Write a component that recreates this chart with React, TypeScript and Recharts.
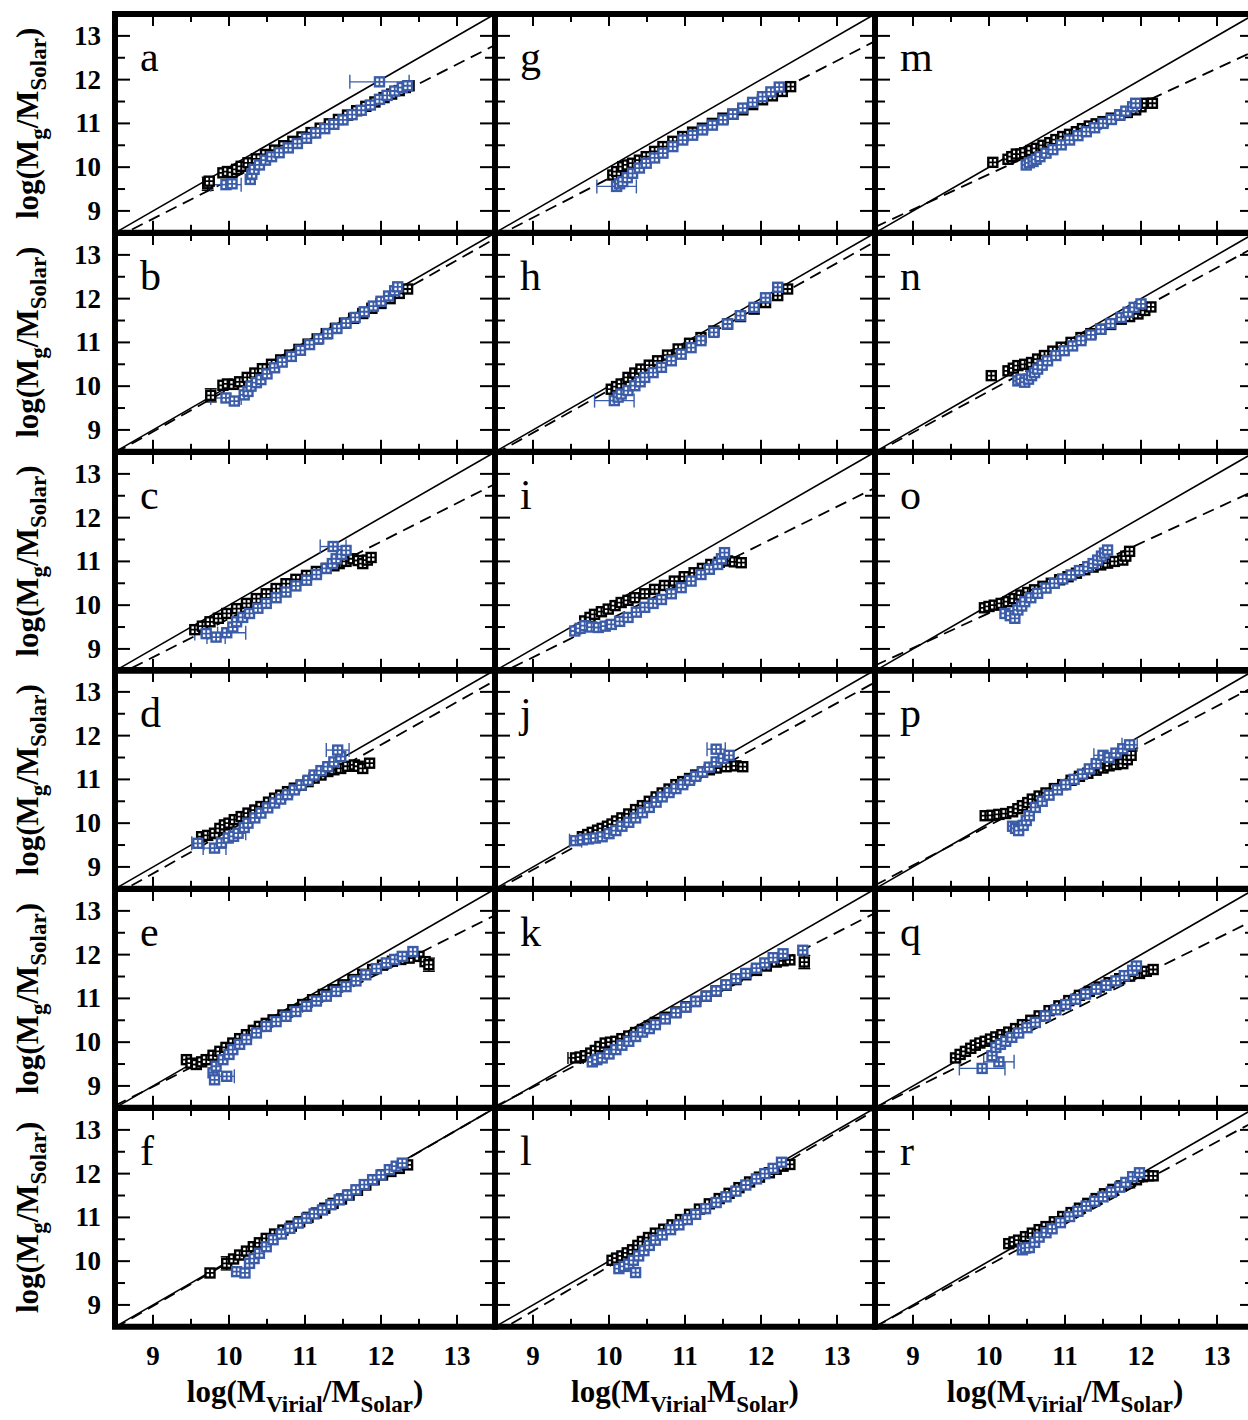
import React from "react";
import { ScatterChart, Scatter, XAxis, YAxis, ReferenceLine, ReferenceArea, ErrorBar } from "recharts";

// each point: [log Mvirial, log Mg, xErr?, yErr?]
// K = black squares, B = blue squares
const aK = [[9.72,9.62,0,0.15],[9.74,9.68],[9.92,9.87],[9.98,9.9],[10.04,9.88],[10.1,9.95],[10.16,10.02],[10.25,10.1],[10.36,10.19],[10.48,10.29],[10.6,10.39],[10.72,10.49],[10.84,10.59],[10.96,10.69],[11.08,10.79],[11.2,10.89],[11.32,10.99],[11.44,11.09],[11.56,11.19],[11.68,11.29],[11.8,11.39],[11.92,11.49],[12.04,11.59],[12.14,11.67],[12.24,11.75],[12.32,11.82],[12.37,11.86]];
const aB = [[9.96,9.6,0.2],[10.04,9.62],[10.28,9.72],[10.3,9.84],[10.33,9.95],[10.4,10.05],[10.48,10.16],[10.56,10.24],[10.66,10.33],[10.78,10.44],[10.9,10.54],[11.02,10.66],[11.14,10.78],[11.26,10.88],[11.38,10.98],[11.5,11.08],[11.62,11.2],[11.74,11.3],[11.86,11.42],[11.98,11.55],[12.08,11.64],[12.18,11.74],[12.28,11.82],[12.35,11.86],[11.98,11.95,0.39]];

const bK = [[9.76,9.79,0,0.15],[9.92,10.02],[9.98,10.05],[10.06,10.04],[10.14,10.1],[10.24,10.2],[10.34,10.3],[10.44,10.4],[10.56,10.5],[10.68,10.6],[10.8,10.71],[10.92,10.84],[11.04,10.96],[11.16,11.08],[11.28,11.2],[11.4,11.32],[11.52,11.44],[11.64,11.55],[11.76,11.66],[11.88,11.78],[12.0,11.89],[12.12,12.0],[12.24,12.12],[12.35,12.22]];
const bB = [[9.96,9.73,0.2],[10.07,9.66],[10.2,9.8],[10.25,9.88],[10.29,10.0],[10.36,10.08],[10.42,10.15],[10.5,10.28],[10.6,10.42],[10.7,10.55],[10.82,10.68],[10.94,10.82],[11.06,10.95],[11.18,11.08],[11.3,11.2],[11.42,11.32],[11.54,11.44],[11.66,11.57],[11.78,11.7],[11.9,11.83],[12.0,11.94],[12.1,12.06],[12.18,12.18],[12.22,12.27]];

const cK = [[9.55,9.44],[9.65,9.52],[9.75,9.62],[9.86,9.7],[9.97,9.81],[10.1,9.92],[10.23,10.04],[10.36,10.15],[10.49,10.26],[10.62,10.38],[10.75,10.49],[10.88,10.59],[11.02,10.68],[11.15,10.77],[11.28,10.84],[11.38,10.9],[11.45,10.95],[11.54,11.0],[11.63,11.06],[11.7,11.02],[11.76,10.95],[11.82,11.03],[11.87,11.09]];
const cB = [[9.7,9.35,0.15],[9.83,9.27,0.12],[9.97,9.37,0.25],[10.05,9.5],[10.1,9.62],[10.18,9.72],[10.27,9.81],[10.38,9.93],[10.49,10.04],[10.62,10.17],[10.75,10.3],[10.88,10.44],[11.02,10.57],[11.15,10.7],[11.28,10.84],[11.36,10.95],[11.41,11.06],[11.48,11.16],[11.54,11.25],[11.37,11.34,0.17]];

const dK = [[9.64,9.69],[9.72,9.72],[9.81,9.77],[9.88,9.88],[9.94,9.96],[10.0,10.0],[10.07,10.08],[10.16,10.15],[10.25,10.23],[10.34,10.3],[10.42,10.38],[10.52,10.48],[10.6,10.57],[10.68,10.64],[10.77,10.72],[10.86,10.8],[10.95,10.87],[11.04,10.95],[11.12,11.03],[11.21,11.1],[11.3,11.18],[11.38,11.22],[11.47,11.25],[11.56,11.3],[11.65,11.33],[11.7,11.3],[11.76,11.25],[11.85,11.37]];
const dB = [[9.59,9.54,0.08],[9.81,9.43,0.15],[9.9,9.55],[9.99,9.66],[10.06,9.7],[10.12,9.77,0.1],[10.2,9.9],[10.25,10.0],[10.34,10.12],[10.42,10.23],[10.51,10.35],[10.6,10.46],[10.68,10.55],[10.77,10.65],[10.86,10.76],[10.95,10.87],[11.04,10.98],[11.12,11.1],[11.21,11.2],[11.3,11.29],[11.38,11.4],[11.47,11.52],[11.43,11.67,0.15]];

const eK = [[9.44,9.6],[9.5,9.52],[9.57,9.49],[9.64,9.55],[9.7,9.6],[9.79,9.7],[9.88,9.79],[9.96,9.88],[10.05,9.98],[10.14,10.08],[10.23,10.17],[10.32,10.27],[10.4,10.36],[10.49,10.43],[10.58,10.51],[10.71,10.62],[10.84,10.74],[10.97,10.86],[11.1,10.97],[11.24,11.09],[11.37,11.2],[11.5,11.31],[11.63,11.43],[11.76,11.55],[11.89,11.66],[12.02,11.76],[12.15,11.85],[12.26,11.89],[12.37,11.92],[12.5,11.96],[12.58,11.84],[12.63,11.77,0,0.15]];
const eB = [[9.79,9.3],[9.81,9.14],[9.97,9.22,0.1],[9.83,9.45],[9.92,9.6],[10.0,9.72],[10.05,9.83],[10.14,9.95],[10.23,10.06],[10.36,10.21],[10.49,10.36],[10.62,10.47],[10.75,10.59],[10.88,10.7],[11.02,10.82],[11.15,10.94],[11.28,11.05],[11.41,11.16],[11.54,11.27],[11.67,11.4],[11.8,11.54],[11.94,11.68],[12.07,11.81],[12.18,11.89],[12.28,11.96],[12.42,12.07]];

const fK = [[9.75,9.73],[9.97,9.95,0,0.15],[10.06,10.05],[10.14,10.14],[10.23,10.23],[10.32,10.33],[10.4,10.42],[10.49,10.52],[10.6,10.62],[10.71,10.71],[10.82,10.8],[10.93,10.9],[11.04,11.0],[11.15,11.1],[11.26,11.21],[11.37,11.32],[11.48,11.42],[11.58,11.51],[11.69,11.62],[11.8,11.74],[11.91,11.86],[12.02,11.97],[12.13,12.05],[12.24,12.12],[12.35,12.2]];
const fB = [[10.1,9.76],[10.21,9.73],[10.27,9.95],[10.33,10.06],[10.4,10.18],[10.49,10.33],[10.58,10.49],[10.69,10.62],[10.8,10.75],[10.91,10.87],[11.02,10.98],[11.12,11.08],[11.23,11.17],[11.34,11.29],[11.45,11.4],[11.56,11.51],[11.67,11.63],[11.78,11.75],[11.89,11.86],[12.0,11.97],[12.11,12.09],[12.2,12.17],[12.28,12.24]];

const gK = [[10.05,9.82],[10.1,9.9],[10.18,10.01],[10.24,10.05],[10.31,10.09],[10.4,10.16],[10.49,10.24],[10.6,10.36],[10.71,10.47],[10.84,10.59],[10.97,10.7],[11.1,10.8],[11.23,10.89],[11.36,11.0],[11.5,11.12],[11.63,11.21],[11.76,11.31],[11.89,11.43],[12.02,11.54],[12.15,11.63],[12.28,11.73],[12.39,11.84]];
const gB = [[10.1,9.56,0.26],[10.14,9.62],[10.18,9.67],[10.24,9.76],[10.31,9.86],[10.4,9.98],[10.49,10.09],[10.6,10.21],[10.71,10.32],[10.84,10.47],[10.97,10.62],[11.1,10.73],[11.23,10.85],[11.36,10.96],[11.5,11.08],[11.63,11.21],[11.76,11.35],[11.89,11.48],[12.02,11.61],[12.13,11.72],[12.24,11.83]];

const hK = [[10.03,9.93],[10.1,9.99],[10.16,10.05],[10.25,10.2],[10.34,10.3],[10.42,10.39],[10.53,10.48],[10.64,10.58],[10.77,10.71],[10.91,10.85],[11.06,10.98],[11.21,11.11],[11.38,11.26],[11.56,11.42],[11.73,11.59],[11.91,11.76],[12.06,11.91],[12.22,12.07],[12.35,12.22]];
const hB = [[10.07,9.67,0.26],[10.12,9.75],[10.16,9.82],[10.25,9.9],[10.34,10.01],[10.41,10.1],[10.47,10.2],[10.58,10.31],[10.69,10.43],[10.82,10.58],[10.95,10.73],[11.08,10.88],[11.21,11.04],[11.38,11.23],[11.56,11.42],[11.73,11.61],[11.91,11.8],[12.06,12.02],[12.22,12.26]];

const iK = [[9.68,9.64],[9.75,9.72],[9.81,9.79],[9.9,9.85],[9.99,9.91],[10.08,9.99],[10.16,10.06],[10.25,10.11],[10.34,10.17],[10.47,10.26],[10.6,10.36],[10.73,10.45],[10.86,10.55],[10.99,10.65],[11.12,10.74],[11.23,10.84],[11.34,10.93],[11.45,10.98],[11.56,11.01],[11.65,10.99],[11.74,10.97]];
const iB = [[9.55,9.41],[9.62,9.47],[9.68,9.53],[9.77,9.5],[9.86,9.49],[9.95,9.52],[10.03,9.56],[10.14,9.63],[10.25,9.72],[10.36,9.84],[10.47,9.95],[10.58,10.04],[10.69,10.13],[10.82,10.26],[10.95,10.4],[11.08,10.55],[11.21,10.7],[11.32,10.82],[11.43,10.93],[11.48,11.06],[11.52,11.2]];

const jK = [[9.65,9.69],[9.72,9.74],[9.78,9.79],[9.85,9.84],[9.91,9.88],[9.98,9.93],[10.04,9.98],[10.1,10.05],[10.17,10.12],[10.26,10.21],[10.35,10.31],[10.44,10.4],[10.53,10.5],[10.62,10.6],[10.7,10.69],[10.79,10.78],[10.88,10.88],[10.97,10.95],[11.06,11.02],[11.14,11.1],[11.23,11.17],[11.32,11.22],[11.41,11.26],[11.54,11.29],[11.67,11.31],[11.76,11.29]];
const jB = [[9.56,9.6,0.08],[9.65,9.62],[9.73,9.64],[9.82,9.66],[9.91,9.69],[10.0,9.76],[10.09,9.83],[10.17,9.93],[10.26,10.02],[10.35,10.12],[10.44,10.24],[10.53,10.36],[10.62,10.48],[10.7,10.6],[10.79,10.7],[10.88,10.79],[10.97,10.88],[11.06,10.98],[11.14,11.07],[11.23,11.17],[11.32,11.28],[11.41,11.4],[11.5,11.48],[11.58,11.55],[11.41,11.69,0.12]];

const kK = [[9.56,9.64,0.1],[9.62,9.66],[9.69,9.69],[9.76,9.75],[9.82,9.81],[9.88,9.9],[9.95,9.98],[10.02,10.0],[10.09,10.02],[10.17,10.08],[10.26,10.14],[10.35,10.22],[10.44,10.29],[10.53,10.37],[10.61,10.45],[10.74,10.57],[10.88,10.69],[11.01,10.81],[11.14,10.93],[11.28,11.05],[11.41,11.17],[11.54,11.3],[11.67,11.43],[11.8,11.54],[11.94,11.64],[12.07,11.74],[12.2,11.83],[12.29,11.86],[12.38,11.88],[12.57,11.83,0,0.15]];
const kB = [[9.78,9.55],[9.84,9.6],[9.91,9.64],[10.0,9.73],[10.09,9.83],[10.17,9.93],[10.26,10.02],[10.35,10.13],[10.44,10.23],[10.53,10.31],[10.61,10.4],[10.74,10.53],[10.88,10.67],[11.01,10.8],[11.14,10.93],[11.28,11.05],[11.41,11.17],[11.54,11.31],[11.67,11.45],[11.8,11.57],[11.94,11.69],[12.05,11.81],[12.16,11.93],[12.29,12.02],[12.55,12.1]];

const lK = [[10.04,10.02],[10.1,10.07],[10.17,10.12],[10.24,10.19],[10.31,10.26],[10.38,10.36],[10.44,10.45],[10.52,10.54],[10.61,10.64],[10.72,10.73],[10.83,10.83],[10.94,10.95],[11.06,11.07],[11.19,11.19],[11.32,11.31],[11.45,11.43],[11.58,11.55],[11.71,11.68],[11.85,11.81],[11.98,11.92],[12.11,12.02],[12.2,12.1],[12.29,12.17],[12.38,12.21]];
const lB = [[10.13,9.83],[10.2,9.88],[10.26,9.93],[10.35,9.74],[10.32,10.02],[10.39,10.12],[10.46,10.24],[10.53,10.36],[10.61,10.48],[10.7,10.6],[10.81,10.72],[10.92,10.83],[11.03,10.95],[11.14,11.07],[11.27,11.2],[11.41,11.34],[11.54,11.47],[11.67,11.6],[11.8,11.74],[11.94,11.88],[12.05,12.0],[12.16,12.12],[12.27,12.26]];

const mK = [[10.05,10.11],[10.25,10.18],[10.3,10.24],[10.36,10.3],[10.42,10.3],[10.47,10.33],[10.55,10.38],[10.62,10.43],[10.71,10.5],[10.8,10.56],[10.88,10.63],[10.97,10.7],[11.06,10.75],[11.15,10.81],[11.23,10.88],[11.32,10.94],[11.41,10.99],[11.5,11.04],[11.61,11.12],[11.72,11.19],[11.82,11.25],[11.93,11.31],[12.0,11.38],[12.07,11.46],[12.15,11.46]];
const mB = [[10.49,10.05],[10.53,10.1],[10.58,10.13],[10.62,10.18],[10.67,10.24],[10.75,10.32],[10.84,10.4],[10.95,10.51],[11.06,10.62],[11.17,10.72],[11.28,10.81],[11.39,10.9],[11.5,11.0],[11.61,11.09],[11.72,11.19],[11.8,11.28],[11.89,11.38],[11.93,11.46]];

const nK = [[10.03,10.24],[10.25,10.35],[10.32,10.41],[10.38,10.47],[10.47,10.5],[10.56,10.54],[10.64,10.62],[10.73,10.7],[10.84,10.8],[10.95,10.89],[11.08,11.0],[11.21,11.11],[11.34,11.2],[11.47,11.3],[11.6,11.41],[11.74,11.53],[11.85,11.59],[11.96,11.65],[12.05,11.73],[12.13,11.81]];
const nB = [[10.38,10.12],[10.42,10.16],[10.47,10.09],[10.52,10.16],[10.56,10.24],[10.6,10.31],[10.64,10.39],[10.7,10.48],[10.77,10.58],[10.88,10.7],[10.99,10.81],[11.1,10.92],[11.21,11.04],[11.34,11.17],[11.47,11.3],[11.6,11.43],[11.74,11.57],[11.83,11.69],[11.91,11.8],[12.0,11.88]];

const oK = [[9.94,9.94],[10.0,9.97],[10.07,10.0],[10.16,10.04],[10.25,10.08],[10.33,10.15],[10.42,10.23],[10.51,10.29],[10.6,10.35],[10.71,10.43],[10.82,10.5],[10.93,10.58],[11.04,10.65],[11.15,10.73],[11.26,10.81],[11.37,10.87],[11.47,10.92],[11.56,10.96],[11.65,11.0],[11.76,11.03],[11.8,11.12],[11.85,11.23]];
const oB = [[10.21,9.81],[10.28,9.76],[10.34,9.7],[10.38,9.89],[10.43,9.98],[10.47,10.08],[10.55,10.17],[10.64,10.27],[10.75,10.39],[10.86,10.5],[10.97,10.6],[11.08,10.69],[11.19,10.79],[11.3,10.88],[11.37,10.95],[11.43,11.03],[11.48,11.12],[11.52,11.19],[11.56,11.26]];

const pK = [[9.95,10.17],[10.04,10.18],[10.13,10.2],[10.22,10.22],[10.31,10.26],[10.38,10.33],[10.44,10.4],[10.51,10.47],[10.57,10.55],[10.66,10.62],[10.75,10.69],[10.86,10.79],[10.97,10.88],[11.08,10.98],[11.19,11.07],[11.3,11.14],[11.41,11.21],[11.5,11.26],[11.58,11.31],[11.67,11.34],[11.76,11.36],[11.82,11.45],[11.87,11.55]];
const pB = [[10.31,9.93],[10.35,9.88],[10.39,9.83],[10.45,9.95],[10.49,10.06],[10.53,10.17],[10.61,10.36],[10.7,10.5],[10.79,10.64],[10.9,10.76],[11.01,10.88],[11.12,11.0],[11.23,11.12],[11.32,11.24],[11.41,11.36],[11.5,11.55,0.12],[11.58,11.5],[11.67,11.6],[11.76,11.7],[11.85,11.79,0.1]];

const qK = [[9.56,9.64],[9.62,9.72],[9.69,9.79],[9.76,9.86],[9.82,9.93],[9.88,9.98],[9.95,10.02],[10.02,10.07],[10.09,10.12],[10.17,10.17],[10.26,10.23],[10.35,10.31],[10.44,10.4],[10.55,10.5],[10.66,10.6],[10.79,10.72],[10.92,10.83],[11.05,10.95],[11.19,11.07],[11.32,11.16],[11.45,11.26],[11.58,11.36],[11.72,11.45],[11.85,11.51],[11.98,11.57],[12.07,11.62],[12.16,11.66]];
const qB = [[9.91,9.4,0.3],[10.13,9.55,0.2],[10.04,9.69],[10.09,9.88],[10.15,9.95],[10.22,10.02],[10.3,10.11],[10.39,10.21],[10.5,10.33],[10.61,10.45],[10.74,10.6],[10.88,10.74],[11.01,10.86],[11.14,10.98],[11.27,11.1],[11.41,11.21],[11.54,11.3],[11.67,11.4],[11.78,11.52],[11.89,11.64],[11.94,11.74]];

const rK = [[10.26,10.4],[10.33,10.44],[10.39,10.48],[10.48,10.56],[10.57,10.64],[10.66,10.72],[10.75,10.79],[10.86,10.9],[10.97,11.02],[11.08,11.11],[11.19,11.21],[11.3,11.32],[11.41,11.43],[11.52,11.54],[11.63,11.64],[11.74,11.72],[11.85,11.79],[11.94,11.86],[12.02,11.93],[12.1,11.95],[12.16,11.95]];
const rB = [[10.44,10.26],[10.48,10.3],[10.53,10.31],[10.6,10.43],[10.66,10.55],[10.75,10.65],[10.83,10.74],[10.94,10.88],[11.06,11.02],[11.17,11.14],[11.28,11.26],[11.39,11.37],[11.5,11.47],[11.61,11.58],[11.72,11.69],[11.8,11.8],[11.89,11.93],[11.98,12.02]];

const letters = ["a","b","c","d","e","f","g","h","i","j","k","l","m","n","o","p","q","r"];
const blackSets = [aK, bK, cK, dK, eK, fK, gK, hK, iK, jK, kK, lK, mK, nK, oK, pK, qK, rK];
const blueSets = [aB, bB, cB, dB, eB, fB, gB, hB, iB, jB, kB, lB, mB, nB, oB, pB, qB, rB];
// dashed fit line: value at x = 8.5 and at x = 13.5
const fitLo = [8.38, 8.47, 8.37, 8.36, 8.55, 8.47, 8.4, 8.45, 8.38, 8.46, 8.53, 8.35, 8.63, 8.47, 8.62, 8.58, 8.5, 8.5];
const fitHi = [12.79, 13.37, 12.77, 13.26, 12.9, 13.5, 12.88, 13.3, 12.68, 13.22, 12.95, 13.45, 12.66, 13.18, 12.62, 13.13, 12.8, 13.2];
const ticks = [9, 9.5, 10, 10.5, 11, 11.5, 12, 12.5, 13];
const xTitles = ["Virial/", "Virial", "Virial/"];

const PW = 380;
const PH = 218.8;
const colLeft = [115, 495, 875];
const rowTop = (r: number) => 14 + r * PH;
const BLUE = "#3b5ca8";
const FONT = "'Liberation Serif', 'Times New Roman', serif";

const toPts = (arr: number[][]) =>
  arr.map(([x, y, ex, ey]) => ({ x, y, ex: ex || undefined, ey: ey || undefined }));

const square = (color: string) => (p: any) => {
  const { cx, cy } = p;
  if (cx == null || cy == null) return <g />;
  return (
    <g>
      <rect x={cx - 4.5} y={cy - 4.5} width={9} height={9} fill="#fff" stroke={color} strokeWidth={2.4} />
      <path d={`M${cx - 4.5},${cy}H${cx + 4.5}M${cx},${cy - 4.5}V${cy + 4.5}`} stroke={color} strokeWidth={1.8} />
    </g>
  );
};
const blackSquare = square("#000");
const blueSquare = square(BLUE);

function XTick(props: any) {
  const { x, y, payload, showLabel } = props;
  const v = payload.value;
  const major = Number.isInteger(v);
  const len = major ? 12 : 8;
  return (
    <g>
      <line x1={x} y1={y} x2={x} y2={y - len} stroke="#000" strokeWidth={2} />
      <line x1={x} y1={y - PH} x2={x} y2={y - PH + len} stroke="#000" strokeWidth={2} />
      {showLabel && major && (
        <text x={x} y={y + 38} textAnchor="middle" fontFamily={FONT} fontWeight={700} fontSize={27} fill="#000">
          {v}
        </text>
      )}
    </g>
  );
}

function YTick(props: any) {
  const { x, y, payload, showLabel } = props;
  const v = payload.value;
  const major = Number.isInteger(v);
  const len = major ? 15 : 10;
  return (
    <g>
      <line x1={x} y1={y} x2={x + len} y2={y} stroke="#000" strokeWidth={2} />
      <line x1={x + PW} y1={y} x2={x + PW - len} y2={y} stroke="#000" strokeWidth={2} />
      {showLabel && major && (
        <text x={x - 14} y={y + 9} textAnchor="end" fontFamily={FONT} fontWeight={700} fontSize={27} fill="#000">
          {v}
        </text>
      )}
    </g>
  );
}

function Panel({ idx }: { idx: number }) {
  const col = Math.floor(idx / 6);
  const row = idx % 6;
  const ml = col === 0 ? 60 : 6;
  const mb = row === 5 ? 50 : 6;
  const black = toPts(blackSets[idx]);
  const blue = toPts(blueSets[idx]);
  // axes take 1px each, so the margins are 1px smaller
  return (
    <div style={{ position: "absolute", left: colLeft[col] - ml, top: rowTop(row) - 6 }}>
      <ScatterChart width={PW + ml + 6} height={PH + 6 + mb} margin={{ top: 6, right: 6, bottom: mb - 1, left: ml - 1 }}>
        <XAxis
          type="number"
          dataKey="x"
          domain={[8.5, 13.5]}
          allowDataOverflow
          ticks={ticks}
          interval={0}
          height={1}
          tickSize={0}
          tickMargin={0}
          axisLine={false}
          tickLine={false}
          tick={(p: any) => <XTick {...p} showLabel={row === 5} />}
        />
        <YAxis
          type="number"
          dataKey="y"
          domain={[8.5, 13.5]}
          allowDataOverflow
          ticks={ticks}
          interval={0}
          width={1}
          tickSize={0}
          tickMargin={0}
          axisLine={false}
          tickLine={false}
          tick={(p: any) => <YTick {...p} showLabel={col === 0} />}
        />
        <ReferenceLine
          segment={[{ x: 8.5, y: 8.5 }, { x: 13.5, y: 13.5 }]}
          stroke="#000"
          strokeWidth={1.6}
          ifOverflow="hidden"
        />
        <ReferenceLine
          segment={[{ x: 8.5, y: fitLo[idx] }, { x: 13.5, y: fitHi[idx] }]}
          stroke="#000"
          strokeWidth={1.8}
          strokeDasharray="12 7"
          ifOverflow="hidden"
        />
        <Scatter data={black} shape={blackSquare} isAnimationActive={false}>
          <ErrorBar dataKey="ey" direction="y" width={6} stroke="#000" strokeWidth={1.4} isAnimationActive={false} />
          <ErrorBar dataKey="ex" direction="x" width={6} stroke="#000" strokeWidth={1.4} isAnimationActive={false} />
        </Scatter>
        <Scatter data={blue} shape={blueSquare} isAnimationActive={false}>
          <ErrorBar dataKey="ex" direction="x" width={7} stroke={BLUE} strokeWidth={1.4} isAnimationActive={false} />
          <ErrorBar dataKey="ey" direction="y" width={7} stroke={BLUE} strokeWidth={1.4} isAnimationActive={false} />
        </Scatter>
        <ReferenceArea
          x1={8.5}
          x2={13.5}
          y1={8.5}
          y2={13.5}
          fill="none"
          fillOpacity={0}
          stroke="#000"
          strokeWidth={6}
          ifOverflow="visible"
        />
      </ScatterChart>
    </div>
  );
}

export default function App() {
  return (
    <div style={{ position: "absolute", left: 0, top: 0, width: 1248, height: 1420, overflow: "hidden", background: "#fff" }}>
      <svg width={1248} height={1420} style={{ position: "absolute", left: 0, top: 0 }}>
        {[0, 1, 2, 3, 4, 5].map((r) => (
          <text
            key={"yt" + r}
            transform={`translate(38, ${rowTop(r) + PH / 2}) rotate(-90)`}
            textAnchor="middle"
            fontFamily={FONT}
            fontWeight={700}
            fontSize={31}
            fill="#000"
          >
            log(M<tspan fontSize={23} dy={8}>g</tspan>
            <tspan dy={-8}>/M</tspan>
            <tspan fontSize={23} dy={8}>Solar</tspan>
            <tspan dy={-8}>)</tspan>
          </text>
        ))}
        {xTitles.map((t, c) => {
          const main = t.replace("/", "");
          return (
            <text
              key={"xt" + c}
              x={colLeft[c] + PW / 2}
              y={1402}
              textAnchor="middle"
              fontFamily={FONT}
              fontWeight={700}
              fontSize={31}
              fill="#000"
            >
              log(M<tspan fontSize={23} dy={10}>{main}</tspan>
              <tspan dy={-10}>{t.endsWith("/") ? "/M" : "M"}</tspan>
              <tspan fontSize={23} dy={10}>Solar</tspan>
              <tspan dy={-10}>)</tspan>
            </text>
          );
        })}
        {letters.map((l, i) => (
          <text
            key={l}
            x={colLeft[Math.floor(i / 6)] + 25}
            y={rowTop(i % 6) + 57}
            fontFamily={FONT}
            fontSize={42}
            fill="#000"
          >
            {l}
          </text>
        ))}
      </svg>
      {letters.map((l, i) => (
        <Panel key={l} idx={i} />
      ))}
    </div>
  );
}
